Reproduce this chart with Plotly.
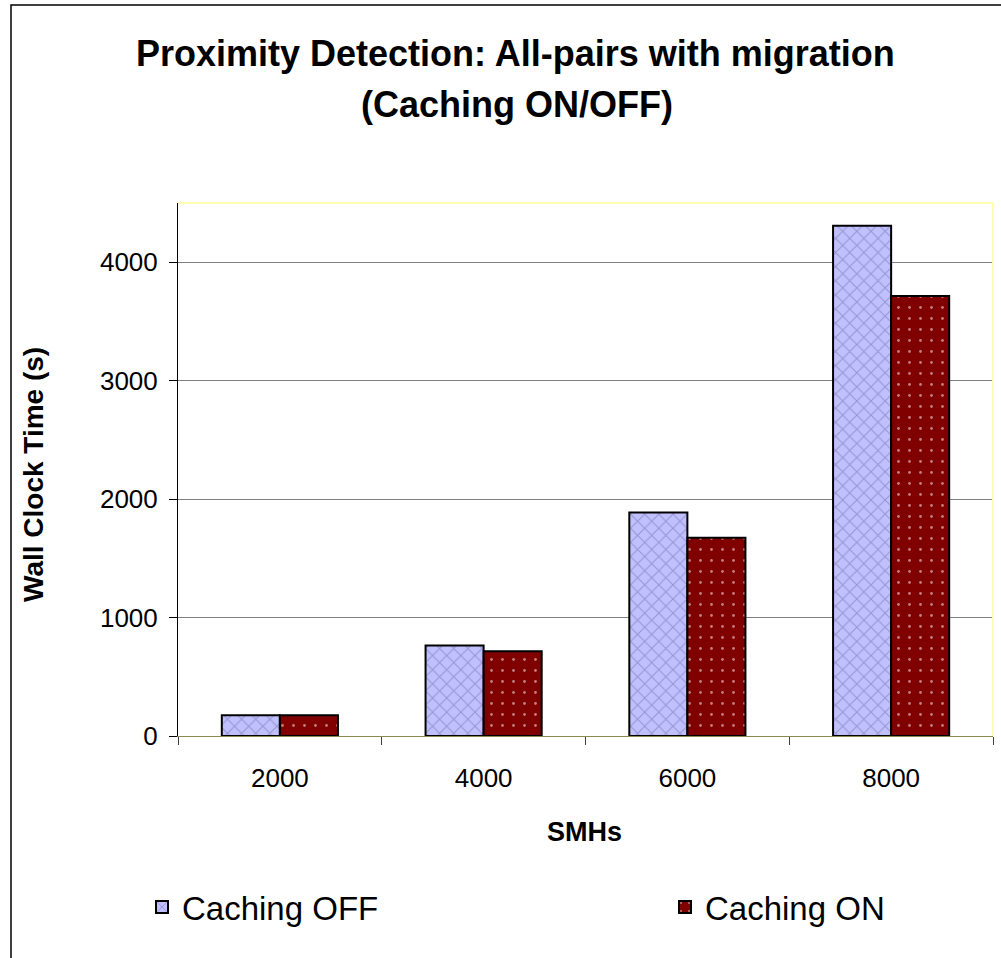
import plotly.graph_objects as go

categories = ["2000", "4000", "6000", "8000"]
caching_off = [175, 765, 1888, 4307]
caching_on = [175, 716, 1673, 3715]
y_ticks = [0, 1000, 2000, 3000, 4000]

W, H = 1001, 958
L, R, T, B = 178, 993, 203, 736
pw, ph = R - L, B - T

def fx(px):
    return (px - L) / pw

def fy(py):
    return 1 - (py - T) / ph

FONT = "Liberation Sans, Arial, sans-serif"

fig = go.Figure()
fig.add_trace(go.Bar(
    x=categories, y=caching_off, name="Caching OFF", legend="legend",
    marker=dict(color="#C0C0FF", line=dict(color="black", width=2),
                pattern=dict(shape="x", bgcolor="#C0C0FF", fgcolor="#6A6AA0",
                             size=10, solidity=0.2)),
))
fig.add_trace(go.Bar(
    x=categories, y=caching_on, name="Caching ON", legend="legend2",
    marker=dict(color="#800000", line=dict(color="black", width=2),
                pattern=dict(shape=".", bgcolor="#800000", fgcolor="#FFFFFF",
                             size=11, solidity=0.05)),
))

legend_common = dict(orientation="h", yanchor="middle", font=dict(size=33, family=FONT),
                     itemsizing="constant", bgcolor="rgba(0,0,0,0)")

fig.update_layout(
    width=W, height=H,
    margin=dict(l=L, r=W - R, t=T, b=H - B, pad=0),
    paper_bgcolor="white", plot_bgcolor="white",
    barmode="group", bargap=0.43, bargroupgap=0,
    font=dict(family=FONT, color="black"),
    showlegend=True,
    legend=dict(x=fx(142), xanchor="left", y=fy(907), **legend_common),
    legend2=dict(x=fx(665), xanchor="left", y=fy(907), **legend_common),
    xaxis=dict(type="category", showgrid=False, showline=True, linecolor="#8A8A50", linewidth=1,
               ticks="outside", ticklen=8, tickcolor="#404040", tickson="boundaries",
               tickfont=dict(size=26, family=FONT), ticklabelstandoff=19),
    yaxis=dict(range=[0, 4500], tickvals=y_ticks, showgrid=True, gridcolor="#808080", gridwidth=1,
               showline=True, linecolor="black", linewidth=1, zeroline=False,
               ticks="outside", ticklen=8, tickcolor="black",
               tickfont=dict(size=26, family=FONT), ticklabelstandoff=6),
    shapes=[
        dict(type="rect", xref="paper", yref="paper", x0=fx(11), x1=fx(1010), y0=fy(975), y1=fy(5),
             line=dict(color="black", width=1.5), fillcolor="rgba(0,0,0,0)", layer="below"),
        dict(type="line", xref="paper", yref="paper", x0=0, x1=1, y0=1, y1=1,
             line=dict(color="#FFFFB0", width=2)),
        dict(type="line", xref="paper", yref="paper", x0=1, x1=1, y0=0, y1=1,
             line=dict(color="#FFFFB0", width=2)),
    ],
    annotations=[
        dict(text="<b>Proximity Detection: All-pairs with migration</b>", xref="paper", yref="paper",
             x=fx(515), y=fy(53), xanchor="center", yanchor="middle", showarrow=False,
             font=dict(size=36, family=FONT)),
        dict(text="<b>(Caching ON/OFF)</b>", xref="paper", yref="paper",
             x=fx(517), y=fy(105), xanchor="center", yanchor="middle", showarrow=False,
             font=dict(size=36, family=FONT)),
        dict(text="<b>Wall Clock Time (s)</b>", xref="paper", yref="paper",
             x=fx(33), y=fy(475), xanchor="center", yanchor="middle", showarrow=False,
             textangle=-90, font=dict(size=28, family=FONT)),
        dict(text="<b>SMHs</b>", xref="paper", yref="paper",
             x=fx(584), y=fy(832), xanchor="center", yanchor="middle", showarrow=False,
             font=dict(size=27, family=FONT)),
    ],
)

fig.write_html("out.html")
